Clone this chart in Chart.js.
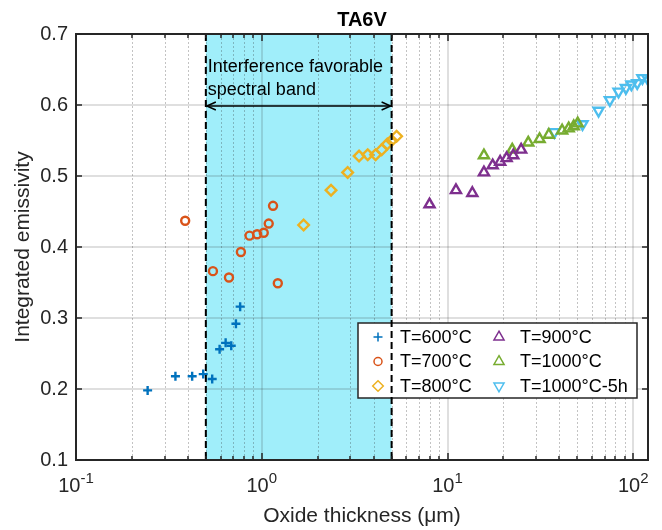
<!DOCTYPE html>
<html>
<head>
<meta charset="utf-8">
<title>TA6V</title>
<script src="https://cdn.jsdelivr.net/npm/chart.js@4.4.1/dist/chart.umd.min.js"></script>
<style>
  body { margin: 0; background: #fff; }
  #wrap { width: 662px; height: 530px; }
</style>
</head>
<body>
<div id="wrap"><canvas id="emisChart"></canvas></div>
<script>
// oxide thickness (um) / integrated emissivity per oxidation temperature
const t600x = [0.243, 0.343, 0.422, 0.484, 0.541, 0.593, 0.639, 0.685, 0.726, 0.765];
const t600y = [0.198, 0.218, 0.218, 0.221, 0.214, 0.256, 0.265, 0.261, 0.292, 0.316];

const t700x = [0.387, 0.546, 0.666, 0.772, 0.859, 0.944, 1.025, 1.09, 1.15, 1.22];
const t700y = [0.437, 0.366, 0.357, 0.393, 0.416, 0.418, 0.420, 0.433, 0.458, 0.349];

const t800x = [1.68, 2.36, 2.90, 3.34, 3.72, 4.10, 4.42, 4.74, 5.0, 5.32];
const t800y = [0.431, 0.480, 0.505, 0.528, 0.530, 0.530, 0.537, 0.545, 0.550, 0.556];

const t900x = [8.0, 11.1, 13.6, 15.7, 17.5, 19.2, 20.8, 22.6, 24.9];
const t900y = [0.460, 0.480, 0.476, 0.505, 0.515, 0.520, 0.525, 0.529, 0.537];

const t1000x = [15.7, 22.3, 27.2, 31.3, 35.1, 41.4, 44.9, 47.8, 50.2];
const t1000y = [0.529, 0.537, 0.547, 0.552, 0.558, 0.564, 0.567, 0.570, 0.574];

const t1000hx = [37.6, 53.3, 65.0, 74.8, 83.3, 91.2, 97.7, 105, 112, 119];
const t1000hy = [0.562, 0.573, 0.592, 0.607, 0.619, 0.624, 0.629, 0.631, 0.638, 0.638];

const seriesNames = ['T=600°C', 'T=700°C', 'T=800°C', 'T=900°C', 'T=1000°C', 'T=1000°C-5h'];

// axis ticks
const xDecades = [0.1, 1, 10, 100];
const xDecadeExp = ['-1', '0', '1', '2'];
const yTicks = [0.1, 0.2, 0.3, 0.4, 0.5, 0.6, 0.7];

// interference band limits and arrow height
const bandLo = 0.5;
const bandHi = 5;
const arrowY = 0.6;
const bandText = ['Interference favorable', 'spectral band'];

const FONT = '"Liberation Sans", Arial, Helvetica, sans-serif';
const AXC = '#262626';

function pts(xs, ys) {
  return xs.map((v, i) => ({ x: v, y: ys[i] }));
}

const xMinor = [];
xDecades.forEach(d => {
  for (let m = 2; m <= 9; m++) {
    if (d * m <= 120) xMinor.push(d * m);
  }
});

const styles = [
  { color: '#0072BD', pointStyle: 'cross', radius: 4.5, rotation: 0 },
  { color: '#D95319', pointStyle: 'circle', radius: 4, rotation: 0 },
  { color: '#EDB120', pointStyle: 'rectRot', radius: 5.3, rotation: 0 },
  { color: '#7E2F8E', pointStyle: 'triangle', radius: 5.8, rotation: 0 },
  { color: '#77AC30', pointStyle: 'triangle', radius: 5.8, rotation: 0 },
  { color: '#4DBEEE', pointStyle: 'triangle', radius: 5.8, rotation: 180 }
];
const markerWidth = 2.4;

const allData = [
  pts(t600x, t600y), pts(t700x, t700y), pts(t800x, t800y),
  pts(t900x, t900y), pts(t1000x, t1000y), pts(t1000hx, t1000hy)
];

const datasets = allData.map((d, i) => ({
  label: seriesNames[i],
  data: d,
  showLine: false,
  borderColor: styles[i].color,
  backgroundColor: 'rgba(0,0,0,0)',
  pointStyle: styles[i].pointStyle,
  pointRadius: styles[i].radius,
  pointRotation: styles[i].rotation,
  pointBorderWidth: markerWidth,
  pointHoverRadius: styles[i].radius
}));

function drawMarker(ctx, i, cx, cy) {
  Chart.helpers.drawPoint(ctx, {
    pointStyle: styles[i].pointStyle,
    radius: styles[i].radius,
    rotation: styles[i].rotation,
    borderWidth: markerWidth
  }, cx, cy);
}

const decor = {
  id: 'decor',
  beforeDatasetsDraw(chart) {
    const { ctx, chartArea: a, scales: { x, y } } = chart;
    ctx.save();
    // band
    const b0 = x.getPixelForValue(bandLo), b1 = x.getPixelForValue(bandHi);
    ctx.fillStyle = '#A0EEFA';
    ctx.fillRect(b0, a.top, b1 - b0, a.bottom - a.top);

    // minor x grid (dotted)
    ctx.lineWidth = 1;
    ctx.strokeStyle = 'rgba(38,38,38,0.28)';
    ctx.setLineDash([2, 2]);
    xMinor.forEach(v => {
      const px = Math.round(x.getPixelForValue(v)) + 0.5;
      ctx.beginPath(); ctx.moveTo(px, a.top); ctx.lineTo(px, a.bottom); ctx.stroke();
    });
    // major grid (solid)
    ctx.setLineDash([]);
    ctx.strokeStyle = 'rgba(38,38,38,0.15)';
    ctx.lineWidth = 2;
    xDecades.forEach(v => {
      const px = Math.round(x.getPixelForValue(v));
      ctx.beginPath(); ctx.moveTo(px, a.top); ctx.lineTo(px, a.bottom); ctx.stroke();
    });
    yTicks.forEach(v => {
      const py = Math.round(y.getPixelForValue(v));
      ctx.beginPath(); ctx.moveTo(a.left, py); ctx.lineTo(a.right, py); ctx.stroke();
    });
    ctx.restore();
  },
  afterDatasetsDraw(chart) {
    const { ctx, chartArea: a, scales: { x, y } } = chart;
    ctx.save();

    // legend box
    const lx = 358, ly = 323, lw = 279, lh = 75;
    ctx.fillStyle = '#fff';
    ctx.fillRect(lx, ly, lw, lh);
    ctx.strokeStyle = AXC;
    ctx.lineWidth = 1.5;
    ctx.strokeRect(lx, ly, lw, lh);
    ctx.font = '18px ' + FONT;
    ctx.textBaseline = 'middle';
    ctx.textAlign = 'left';
    for (let i = 0; i < 6; i++) {
      const col = Math.floor(i / 3), row = i % 3;
      const mx = col ? 499 : 378;
      const tx = col ? 520 : 400;
      const my = ly + 14 + row * 24.5;
      ctx.strokeStyle = styles[i].color;
      ctx.fillStyle = 'rgba(0,0,0,0)';
      drawMarker(ctx, i, mx, my);
      ctx.fillStyle = '#000';
      ctx.fillText(seriesNames[i], tx, my + 1);
    }

    // band edges
    const b0 = x.getPixelForValue(bandLo), b1 = x.getPixelForValue(bandHi);
    ctx.strokeStyle = '#000';
    ctx.lineWidth = 2;
    ctx.setLineDash([7, 4]);
    [b0, b1].forEach(px => {
      ctx.beginPath(); ctx.moveTo(px, a.top); ctx.lineTo(px, a.bottom); ctx.stroke();
    });
    ctx.setLineDash([]);

    // double arrow across the band
    const ay = y.getPixelForValue(arrowY) + 1;
    ctx.lineWidth = 1.5;
    ctx.beginPath(); ctx.moveTo(b0 + 1, ay); ctx.lineTo(b1 - 1, ay); ctx.stroke();
    ctx.beginPath();
    ctx.moveTo(b0 + 10, ay - 4); ctx.lineTo(b0 + 1, ay); ctx.lineTo(b0 + 10, ay + 4);
    ctx.moveTo(b1 - 10, ay - 4); ctx.lineTo(b1 - 1, ay); ctx.lineTo(b1 - 10, ay + 4);
    ctx.stroke();

    ctx.fillStyle = '#000';
    ctx.font = '18px ' + FONT;
    ctx.textBaseline = 'alphabetic';
    ctx.fillText(bandText[0], b0 + 2, ay - 34);
    ctx.fillText(bandText[1], b0 + 2, ay - 11);

    // axes box and inward ticks
    ctx.strokeStyle = AXC;
    ctx.lineWidth = 2;
    ctx.strokeRect(a.left, a.top, a.right - a.left, a.bottom - a.top);
    ctx.lineWidth = 1.5;
    ctx.beginPath();
    xDecades.concat(xMinor).forEach(v => {
      const px = Math.round(x.getPixelForValue(v));
      const len = xDecades.includes(v) ? 7 : 4;
      ctx.moveTo(px, a.bottom); ctx.lineTo(px, a.bottom - len);
      ctx.moveTo(px, a.top); ctx.lineTo(px, a.top + len);
    });
    yTicks.forEach(v => {
      const py = Math.round(y.getPixelForValue(v));
      ctx.moveTo(a.left, py); ctx.lineTo(a.left + 6, py);
      ctx.moveTo(a.right, py); ctx.lineTo(a.right - 6, py);
    });
    ctx.stroke();

    // x tick labels, 10 with exponent
    ctx.fillStyle = AXC;
    ctx.textBaseline = 'alphabetic';
    xDecades.forEach((v, i) => {
      const px = x.getPixelForValue(v);
      ctx.font = '20px ' + FONT;
      const wb = ctx.measureText('10').width;
      ctx.font = '15px ' + FONT;
      const we = ctx.measureText(xDecadeExp[i]).width;
      const left = px - (wb + we) / 2;
      ctx.font = '20px ' + FONT;
      ctx.textAlign = 'left';
      ctx.fillText('10', left, a.bottom + 32);
      ctx.font = '15px ' + FONT;
      ctx.fillText(xDecadeExp[i], left + wb, a.bottom + 23);
    });

    // title
    ctx.font = 'bold 20px ' + FONT;
    ctx.textAlign = 'center';
    ctx.fillStyle = '#000';
    ctx.fillText('TA6V', (a.left + a.right) / 2, 26);
    ctx.restore();
  }
};

new Chart(document.getElementById('emisChart'), {
  type: 'scatter',
  data: { datasets: datasets },
  options: {
    responsive: true,
    maintainAspectRatio: false,
    animation: false,
    layout: { padding: { left: 0, right: 14, top: 34, bottom: 0 } },
    plugins: {
      legend: { display: false },
      tooltip: { enabled: false }
    },
    scales: {
      x: {
        type: 'logarithmic',
        min: 0.1,
        max: 120,
        grid: { display: false, drawTicks: false },
        border: { display: false },
        ticks: { display: false },
        title: {
          display: true,
          text: 'Oxide thickness (μm)',
          color: AXC,
          font: { family: FONT, size: 21 },
          padding: { top: 0, bottom: 1 }
        },
        afterFit: s => { s.height = 70; }
      },
      y: {
        min: 0.1,
        max: 0.7,
        afterBuildTicks: s => { s.ticks = yTicks.map(v => ({ value: v })); },
        grid: { display: false, drawTicks: false },
        border: { display: false },
        ticks: {
          color: AXC,
          padding: 8,
          font: { family: FONT, size: 20 },
          callback: v => v.toFixed(1)
        },
        title: {
          display: true,
          text: 'Integrated emissivity',
          color: AXC,
          font: { family: FONT, size: 21 },
          padding: { top: 11, bottom: 0 }
        },
        afterFit: s => { s.width = 76; }
      }
    }
  },
  plugins: [decor]
});
</script>
</body>
</html>
